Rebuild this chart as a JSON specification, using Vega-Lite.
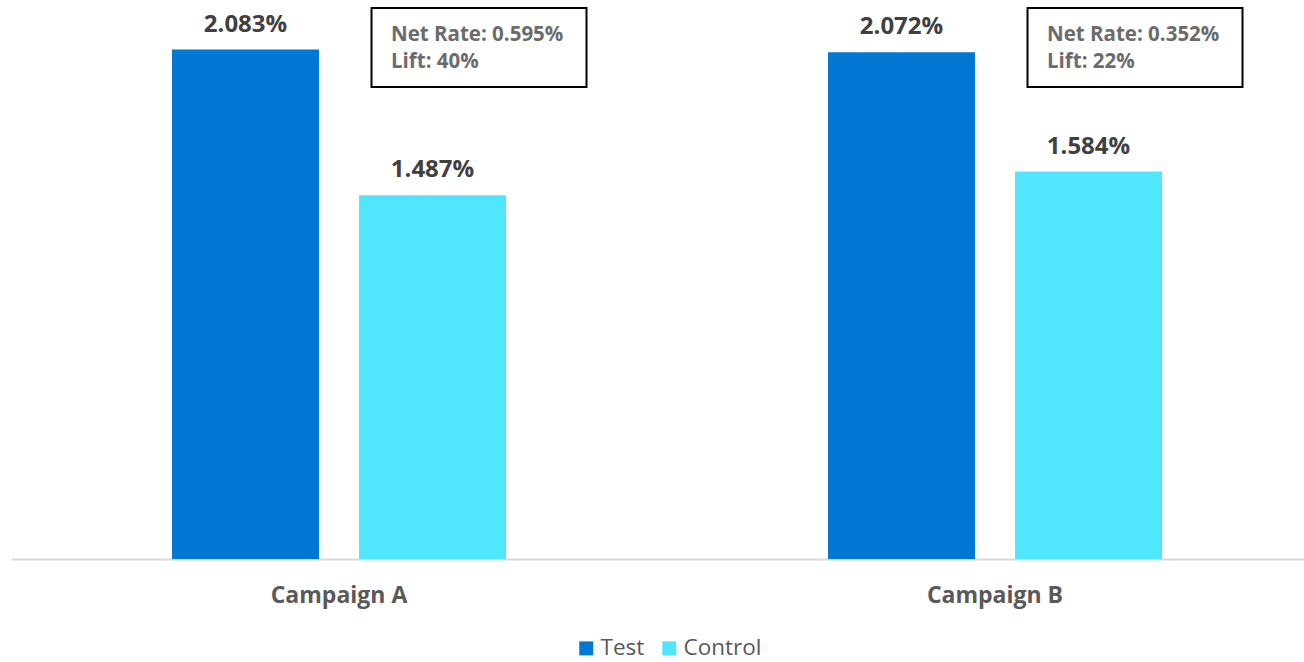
{
  "$schema": "https://vega.github.io/schema/vega-lite/v6.json",
  "autosize": {"type": "none"},
  "width": 1293,
  "height": 559,
  "padding": {"left": 11, "top": 0, "right": 0, "bottom": 103},
  "background": "white",
  "config": {"view": {"stroke": null}, "font": "Open Sans"},
  "datasets": {
    "bars": [
      {"campaign": "Campaign A", "group": "Test", "rate": 2.083, "label": "2.083%"},
      {"campaign": "Campaign A", "group": "Control", "rate": 1.487, "label": "1.487%"},
      {"campaign": "Campaign B", "group": "Test", "rate": 2.072, "label": "2.072%"},
      {"campaign": "Campaign B", "group": "Control", "rate": 1.584, "label": "1.584%"}
    ],
    "notes": [
      {"campaign": "Campaign A", "group": "Control", "lines": ["Net Rate: 0.595%", "Lift: 40%"]},
      {"campaign": "Campaign B", "group": "Control", "lines": ["Net Rate: 0.352%", "Lift: 22%"]}
    ]
  },
  "layer": [
    {
      "data": {"name": "bars"},
      "mark": {"type": "bar"},
      "encoding": {
        "x": {
          "field": "campaign", "type": "nominal", "sort": null,
          "scale": {"range": [0, 1312], "paddingInner": 0, "paddingOuter": 0},
          "axis": {
            "title": null, "ticks": false, "labelAngle": 0,
            "labelFont": "Open Sans", "labelFontSize": 23, "labelFontWeight": "bold",
            "labelColor": "#595959", "labelPadding": 25,
            "domainColor": "#d9d9d9", "domainWidth": 2, "grid": false
          }
        },
        "xOffset": {
          "field": "group", "type": "nominal", "sort": ["Test", "Control"],
          "scale": {"paddingInner": 0.2139, "paddingOuter": 0.861}
        },
        "y": {
          "field": "rate", "type": "quantitative",
          "scale": {"domain": [0, 2.2854], "nice": false},
          "axis": null
        },
        "color": {
          "field": "group", "type": "nominal",
          "scale": {"domain": ["Test", "Control"], "range": ["#0078d4", "#50e6ff"]},
          "legend": {
            "title": null, "orient": "none", "direction": "horizontal",
            "legendX": 564, "legendY": 637,
            "symbolType": "square", "symbolSize": 196, "symbolStrokeWidth": 0,
            "labelFontSize": 22.5, "labelColor": "#595959", "labelFont": "Open Sans",
            "columnPadding": 13, "labelOffset": 3
          }
        }
      }
    },
    {
      "data": {"name": "bars"},
      "mark": {"type": "text", "baseline": "alphabetic", "dy": -18, "fontSize": 24, "fontWeight": "bold", "color": "#404040", "font": "Open Sans"},
      "encoding": {
        "x": {"field": "campaign", "type": "nominal", "sort": null},
        "xOffset": {"field": "group", "type": "nominal", "sort": ["Test", "Control"]},
        "y": {"field": "rate", "type": "quantitative"},
        "text": {"field": "label"}
      }
    },
    {
      "data": {"name": "notes"},
      "mark": {"type": "bar", "width": 215, "xOffset": 140, "fill": "white", "stroke": "black", "strokeWidth": 2},
      "encoding": {
        "x": {"field": "campaign", "type": "nominal", "sort": null},
        "y": {"datum": 2.2527},
        "y2": {"datum": 1.9297}
      }
    },
    {
      "data": {"name": "notes"},
      "mark": {"type": "text", "align": "left", "baseline": "alphabetic", "dx": -41.5, "fontSize": 20.5, "fontWeight": "bold", "color": "#6b6b6b", "font": "Open Sans", "lineHeight": 27.5},
      "encoding": {
        "x": {"field": "campaign", "type": "nominal", "sort": null},
        "xOffset": {"field": "group", "type": "nominal", "sort": ["Test", "Control"]},
        "y": {"datum": 2.1178},
        "text": {"field": "lines"}
      }
    }
  ]
}
